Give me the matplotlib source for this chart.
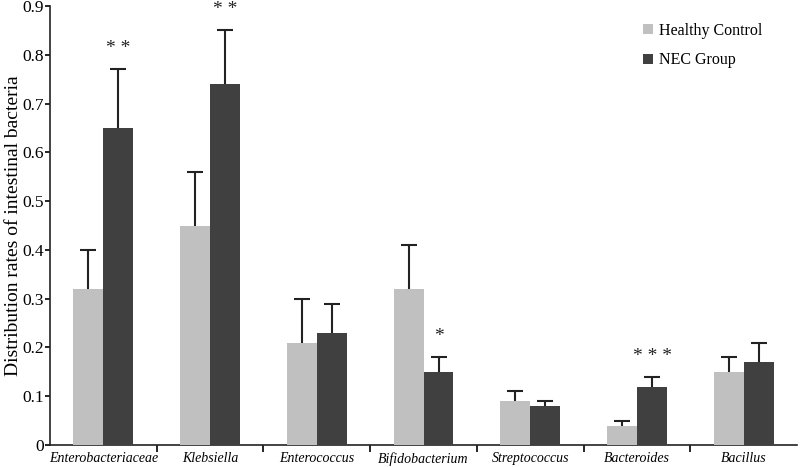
import matplotlib
matplotlib.use("Agg")
import matplotlib.pyplot as plt
import numpy as np

categories = ["Enterobacteriaceae", "Klebsiella", "Enterococcus", "Bifidobacterium",
              "Streptococcus", "Bacteroides", "Bacillus"]
healthy = [0.32, 0.45, 0.21, 0.32, 0.09, 0.04, 0.15]
healthy_err = [0.08, 0.11, 0.09, 0.09, 0.02, 0.01, 0.03]
nec = [0.65, 0.74, 0.23, 0.15, 0.08, 0.12, 0.17]
nec_err = [0.12, 0.11, 0.06, 0.03, 0.01, 0.02, 0.04]
signif = ["**", "**", "", "*", "", "***", ""]

plt.rcParams['font.family'] = ['Liberation Serif', 'DejaVu Serif']

fig = plt.figure(figsize=(8, 4.67), dpi=100)
ax = fig.add_axes([0.0625, 0.047, 0.934, 0.94])

x = np.arange(len(categories))
w = 0.28
light = "#c0c0c0"
dark = "#404040"
ax.bar(x - w/2, healthy, w, color=light, label="Healthy Control", zorder=3)
ax.bar(x + w/2, nec, w, color=dark, label="NEC Group", zorder=3)
ax.errorbar(x - w/2, healthy, yerr=healthy_err, fmt='none',
            ecolor='#222222', elinewidth=1.5, capsize=6, capthick=1.5, zorder=2)
ax.errorbar(x + w/2, nec, yerr=nec_err, fmt='none',
            ecolor='#222222', elinewidth=1.5, capsize=6, capthick=1.5, zorder=2)

for i, s in enumerate(signif):
    if s:
        ax.text(x[i] + w/2, nec[i] + nec_err[i] + 0.042, " ".join(s) if len(s) > 1 else s,
                ha='center', va='center', fontsize=14, color='#222222')

ax.set_xlim(-0.5, len(categories) - 0.5)
ax.set_ylim(0, 0.9)
ax.set_yticks(np.arange(0, 0.91, 0.1))
ax.set_yticklabels(["0"] + [f"{v:.1f}" for v in np.arange(0.1, 0.91, 0.1)], fontsize=12.5)
ax.set_xticks(x)
ax.set_xticklabels(categories, fontsize=10, style='italic')
ax.tick_params(axis='x', which='major', length=0, pad=5)
ax.set_xticks(np.arange(0.5, len(categories) - 0.5, 1), minor=True)
ax.tick_params(axis='x', which='minor', length=5, width=1.2, direction='out')
ax.tick_params(axis='y', length=3.5, width=1.2, direction='out', pad=1)
ax.set_ylabel("Distribution rates of intestinal bacteria", fontsize=14)
ax.yaxis.set_label_coords(-0.038, 0.5)

for sp in ['top', 'right']:
    ax.spines[sp].set_visible(False)
for sp in ['left', 'bottom']:
    ax.spines[sp].set_linewidth(1.2)
    ax.spines[sp].set_color('#222222')

ax.legend(loc='upper right', bbox_to_anchor=(0.972, 0.995), frameon=False, fontsize=11.5,
          handlelength=0.6, handleheight=0.6, handletextpad=0.35, labelspacing=0.85)

fig.savefig("out.png", dpi=100)
